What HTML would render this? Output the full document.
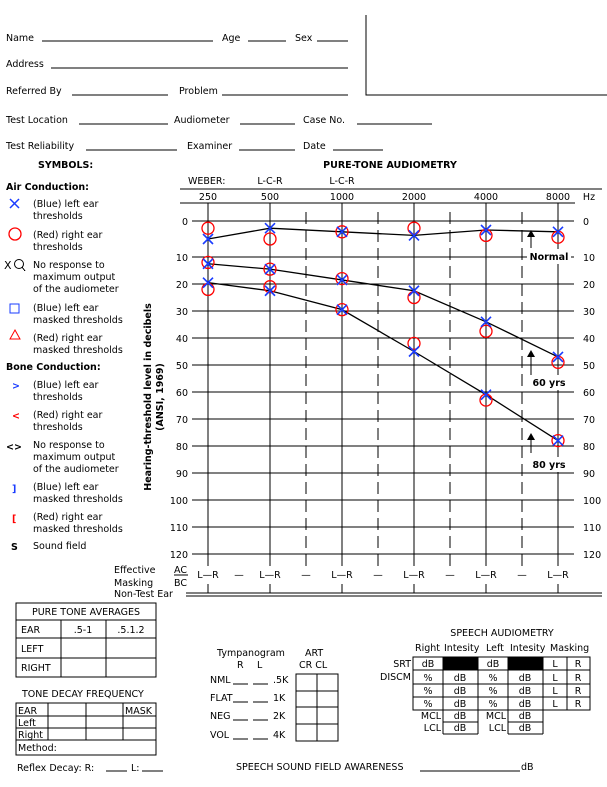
<!DOCTYPE html>
<html><head><meta charset="utf-8"><style>
html,body{margin:0;padding:0;background:#fff}
svg{display:block;font-family:"DejaVu Sans","Liberation Sans",sans-serif;font-size:9.5px}
svg line, svg rect, svg polyline{shape-rendering:crispEdges}
.b{font-weight:bold}
</style></head><body>
<svg id="pg" width="607" height="787" viewBox="0 0 607 787" stroke-linecap="butt">
<g fill="#000">
<text x="6" y="41">Name</text><line x1="42" y1="41" x2="213" y2="41" stroke="#000"/>
<text x="222" y="41">Age</text><line x1="248" y1="41" x2="286" y2="41" stroke="#000"/>
<text x="295" y="41">Sex</text><line x1="317" y1="41" x2="348" y2="41" stroke="#000"/>
<text x="6" y="67">Address</text><line x1="51" y1="68" x2="348" y2="68" stroke="#000"/>
<text x="6" y="94">Referred By</text><line x1="72" y1="95" x2="168" y2="95" stroke="#000"/>
<text x="179" y="94">Problem</text><line x1="222" y1="95" x2="348" y2="95" stroke="#000"/>
<text x="6" y="123">Test Location</text><line x1="79" y1="124" x2="168" y2="124" stroke="#000"/>
<text x="174" y="123">Audiometer</text><line x1="240" y1="124" x2="295" y2="124" stroke="#000"/>
<text x="303" y="123">Case No.</text><line x1="357" y1="124" x2="432" y2="124" stroke="#000"/>
<text x="6" y="149">Test Reliability</text><line x1="86" y1="150" x2="177" y2="150" stroke="#000"/>
<text x="187" y="149">Examiner</text><line x1="239" y1="150" x2="295" y2="150" stroke="#000"/>
<text x="303" y="149">Date</text><line x1="333" y1="150" x2="383" y2="150" stroke="#000"/>
<path d="M366 15 V95 H607" fill="none" stroke="#000"/>
</g>
<g fill="#000">
<text x="38" y="168" class="b">SYMBOLS:</text>
<text x="6" y="190" class="b">Air Conduction:</text>
<path d="M10 199 L19 208 M19 199 L10 208" stroke="#1a3cff" stroke-width="1.5"/>
<text x="33" y="207">(Blue) left ear</text><text x="33" y="219">thresholds</text>
<circle cx="15" cy="234" r="6" fill="none" stroke="red" stroke-width="1.3"/>
<text x="33" y="238">(Red) right ear</text><text x="33" y="250">thresholds</text>
<text x="4" y="269" font-size="11">X</text><circle cx="19" cy="264" r="4.5" fill="none" stroke="#000"/><line x1="22" y1="267" x2="25" y2="271" stroke="#000"/>
<text x="33" y="268">No response to</text><text x="33" y="280">maximum output</text><text x="33" y="292">of the audiometer</text>
<rect x="10" y="304" width="9" height="9" fill="none" stroke="#1a3cff"/>
<text x="33" y="311">(Blue) left ear</text><text x="33" y="323">masked thresholds</text>
<path d="M15 330 L20 339 L10 339 Z" fill="none" stroke="red"/>
<text x="33" y="341">(Red) right ear</text><text x="33" y="353">masked thresholds</text>
<text x="6" y="370" class="b">Bone Conduction:</text>
<text x="12" y="389" fill="#1a3cff" class="b">&gt;</text>
<text x="33" y="388">(Blue) left ear</text><text x="33" y="400">thresholds</text>
<text x="12" y="419" fill="red" class="b">&lt;</text>
<text x="33" y="418">(Red) right ear</text><text x="33" y="430">thresholds</text>
<text x="6" y="450" class="b">&lt;&gt;</text>
<text x="33" y="448">No response to</text><text x="33" y="460">maximum output</text><text x="33" y="472">of the audiometer</text>
<text x="12" y="492" fill="#1a3cff" class="b">]</text>
<text x="33" y="490">(Blue) left ear</text><text x="33" y="502">masked thresholds</text>
<text x="12" y="522" fill="red" class="b">[</text>
<text x="33" y="520">(Red) right ear</text><text x="33" y="532">masked thresholds</text>
<text x="11" y="550" class="b">S</text><text x="33" y="549">Sound field</text>
</g>
<g id="chart"></g>
<g fill="#000" stroke-width="1">
<rect x="16" y="603" width="140" height="74" fill="none" stroke="#000"/>
<line x1="16" y1="620" x2="156" y2="620" stroke="#000"/><line x1="16" y1="638" x2="156" y2="638" stroke="#000"/><line x1="16" y1="658" x2="156" y2="658" stroke="#000"/>
<line x1="61" y1="620" x2="61" y2="677" stroke="#000"/><line x1="106" y1="620" x2="106" y2="677" stroke="#000"/>
<text x="86" y="615" text-anchor="middle">PURE TONE AVERAGES</text>
<text x="21" y="633">EAR</text><text x="83" y="633" text-anchor="middle">.5-1</text><text x="131" y="633" text-anchor="middle">.5.1.2</text>
<text x="21" y="652">LEFT</text><text x="21" y="671">RIGHT</text>
</g>
<g fill="#000">
<text x="22" y="697">TONE DECAY FREQUENCY</text>
<rect x="16" y="703" width="140" height="52" fill="none" stroke="#000"/>
<line x1="16" y1="716" x2="156" y2="716" stroke="#000"/><line x1="16" y1="728" x2="156" y2="728" stroke="#000"/><line x1="16" y1="740" x2="156" y2="740" stroke="#000"/>
<line x1="48" y1="703" x2="48" y2="740" stroke="#000"/><line x1="86" y1="703" x2="86" y2="740" stroke="#000"/><line x1="123" y1="703" x2="123" y2="740" stroke="#000"/>
<text x="18" y="714">EAR</text><text x="125" y="714">MASK</text><text x="18" y="726">Left</text><text x="18" y="738">Right</text><text x="18" y="751">Method:</text>
<text x="17" y="771">Reflex Decay:  R:</text><line x1="106" y1="771" x2="127" y2="771" stroke="#000"/><text x="131" y="771">L:</text><line x1="142" y1="771" x2="163" y2="771" stroke="#000"/>
</g>
<g fill="#000">
<text x="217" y="656">Tympanogram</text><text x="305" y="656">ART</text>
<text x="237" y="668">R</text><text x="257" y="668">L</text><text x="299" y="668">CR  CL</text>
<text x="210" y="683">NML</text><text x="210" y="701">FLAT</text><text x="210" y="719">NEG</text><text x="210" y="738">VOL</text>
<g stroke="#000"><line x1="233" y1="684" x2="248" y2="684"/><line x1="253" y1="684" x2="268" y2="684"/>
<line x1="233" y1="702" x2="248" y2="702"/><line x1="253" y1="702" x2="268" y2="702"/>
<line x1="233" y1="720" x2="248" y2="720"/><line x1="253" y1="720" x2="268" y2="720"/>
<line x1="233" y1="739" x2="248" y2="739"/><line x1="253" y1="739" x2="268" y2="739"/>
<rect x="296" y="674" width="42" height="67" fill="none"/><line x1="317" y1="674" x2="317" y2="741"/>
<line x1="296" y1="691" x2="338" y2="691"/><line x1="296" y1="707" x2="338" y2="707"/><line x1="296" y1="724" x2="338" y2="724"/></g>
<text x="273" y="683">.5K</text><text x="273" y="701">1K</text><text x="273" y="719">2K</text><text x="273" y="738">4K</text>
</g>
<g fill="#000">
<text x="502" y="636" text-anchor="middle">SPEECH AUDIOMETRY</text>
<text x="415" y="651">Right</text><text x="444" y="651">Intesity</text><text x="486" y="651">Left</text><text x="510" y="651">Intesity</text><text x="550" y="651">Masking</text>
<rect x="443" y="657" width="35" height="13" fill="#000"/>
<rect x="508" y="657" width="35" height="13" fill="#000"/>
<g stroke="#000" fill="none">
<rect x="413" y="657" width="177" height="53"/>
<line x1="413" y1="670" x2="590" y2="670"/><line x1="413" y1="684" x2="590" y2="684"/><line x1="413" y1="697" x2="590" y2="697"/>
<line x1="443" y1="657" x2="443" y2="734"/><line x1="478" y1="657" x2="478" y2="734"/><line x1="508" y1="657" x2="508" y2="734"/><line x1="543" y1="657" x2="543" y2="734"/><line x1="567" y1="657" x2="567" y2="710"/>
<line x1="443" y1="722" x2="478" y2="722"/><line x1="508" y1="722" x2="543" y2="722"/><line x1="443" y1="734" x2="478" y2="734"/><line x1="508" y1="734" x2="543" y2="734"/>
</g>
<text x="411" y="667" text-anchor="end">SRT</text><text x="411" y="680" text-anchor="end">DISCM</text>
<text x="428" y="667" text-anchor="middle">dB</text><text x="493" y="667" text-anchor="middle">dB</text>
<text x="428" y="681" text-anchor="middle">%</text><text x="460" y="681" text-anchor="middle">dB</text><text x="493" y="681" text-anchor="middle">%</text><text x="525" y="681" text-anchor="middle">dB</text>
<text x="428" y="694" text-anchor="middle">%</text><text x="460" y="694" text-anchor="middle">dB</text><text x="493" y="694" text-anchor="middle">%</text><text x="525" y="694" text-anchor="middle">dB</text>
<text x="428" y="707" text-anchor="middle">%</text><text x="460" y="707" text-anchor="middle">dB</text><text x="493" y="707" text-anchor="middle">%</text><text x="525" y="707" text-anchor="middle">dB</text>
<text x="555" y="667" text-anchor="middle">L</text><text x="578" y="667" text-anchor="middle">R</text>
<text x="555" y="681" text-anchor="middle">L</text><text x="578" y="681" text-anchor="middle">R</text>
<text x="555" y="694" text-anchor="middle">L</text><text x="578" y="694" text-anchor="middle">R</text>
<text x="555" y="707" text-anchor="middle">L</text><text x="578" y="707" text-anchor="middle">R</text>
<text x="441" y="719" text-anchor="end">MCL</text><text x="460" y="719" text-anchor="middle">dB</text><text x="506" y="719" text-anchor="end">MCL</text><text x="525" y="719" text-anchor="middle">dB</text>
<text x="441" y="731" text-anchor="end">LCL</text><text x="460" y="731" text-anchor="middle">dB</text><text x="506" y="731" text-anchor="end">LCL</text><text x="525" y="731" text-anchor="middle">dB</text>
</g>
<g fill="#000">
<text x="236" y="770">SPEECH SOUND FIELD AWARENESS</text><line x1="420" y1="771" x2="520" y2="771" stroke="#000"/><text x="521" y="770">dB</text>
</g>
</svg>
<script>
const freqs = ["250","500","1000","2000","4000","8000"];
const dbTicks = [0,10,20,30,40,50,60,70,80,90,100,110,120];
const normalLeft = [5,2,3,4,2.5,3];
const normalRight = [2,5,3,2,4,4.5];
const age60Left = [12.5,14.5,18.5,22.5,34,47];
const age60Right = [12,14.5,18,25,37.5,49];
const age80Left = [19.5,22.5,29.5,45,61,78];
const age80Right = [22,21,29.5,42,63,78];
const NS = "http://www.w3.org/2000/svg";
const g = document.getElementById('chart');
function xs(i){ return i===0 ? 208 : 270 + (i-1)*72; }
function ys(v){ return v<=10 ? 221 + v*3.6 : 257 + (v-10)*2.7; }
function el(tag, attrs, parent){ const e=document.createElementNS(NS,tag); for(const k in attrs) e.setAttribute(k,attrs[k]); (parent||g).appendChild(e); return e; }
function txt(x,y,s,anchor,cls){ const t=el('text',{x:x,y:y,'text-anchor':anchor||'start'}); if(cls) t.setAttribute('class',cls); t.textContent=s; return t; }
let t=txt(390,168,'PURE-TONE AUDIOMETRY','middle','b');


txt(188,184,'WEBER:');
txt(270,184,'L-C-R','middle');
txt(342,184,'L-C-R','middle');
el('line',{x1:180,y1:189,x2:602,y2:189,stroke:'#000'});
el('line',{x1:180,y1:203,x2:575,y2:203,stroke:'#000'});
txt(589,200,'Hz','middle');
freqs.forEach((f,i)=>{
  const l=txt(xs(i),200,f,'middle');
  
  
  const v=el('line',{x1:xs(i),y1:203,x2:xs(i),y2:566,stroke:'#000'});
  
  
  el('line',{x1:xs(i),y1:584,x2:xs(i),y2:593,stroke:'#000'});
  txt(xs(i),578,'L—R','middle');
  if(i<freqs.length-1){
    const mx=(xs(i)+xs(i+1))/2;
    if(i>0){
      const d=el('line',{x1:mx,y1:212,x2:mx,y2:570,stroke:'#000','stroke-dasharray':'12,6'});
      
      
    }
    txt(mx,578,'—','middle');
  }
});
dbTicks.forEach(v=>{
  const y=ys(v);
  const h=el('line',{x1:192,y1:y,x2:574,y2:y,stroke:'#000'});
  
  
  const a=txt(188,y+4,String(v),'end');
  
  
  const b=txt(583,y+4,String(v),'start');
  
  
});
const yt=el('text',{transform:'translate(151,397) rotate(-90)','text-anchor':'middle',class:'b'});
yt.textContent='Hearing-threshold level in decibels';


const yt2=el('text',{transform:'translate(163,397) rotate(-90)','text-anchor':'middle',class:'b'});
yt2.textContent='(ANSI, 1969)';


txt(114,573,'Effective');txt(114,586,'Masking');txt(114,597,'Non-Test Ear');
txt(174,573,'AC');txt(174,586,'BC');
el('line',{x1:174,y1:575,x2:188,y2:575,stroke:'#000'});
el('line',{x1:186,y1:593,x2:602,y2:593,stroke:'#000'});
el('line',{x1:186,y1:596,x2:602,y2:596,stroke:'#000'});
function series(lv,rv,name){
  const pts=lv.map((v,i)=>xs(i)+','+ys(v)).join(' ');
  const pl=el('polyline',{points:pts,fill:'none',stroke:'#000','stroke-width':1.3,style:'shape-rendering:auto'});
  
  
  rv.forEach((v,i)=>{
    const c=el('circle',{cx:xs(i),cy:ys(v),r:6,fill:'none',stroke:'red','stroke-width':1.3});
    
    
  });
  lv.forEach((v,i)=>{
    const x=xs(i),y=ys(v);
    const p=el('path',{d:`M${x-5} ${y-5} L${x+5} ${y+5} M${x+5} ${y-5} L${x-5} ${y+5}`,stroke:'#1a3cff','stroke-width':1.6});
    
    
  });
}
series(normalLeft,normalRight,'normal');
series(age60Left,age60Right,'age-60');
series(age80Left,age80Right,'age-80');
function note(label,ty,a1,a2,name){
  el('rect',{x:527,y:ty-11,width:44,height:15,fill:'#fff'});
  const n=txt(549,ty,label,'middle','b');
  
  
  el('line',{x1:531,y1:a1,x2:531,y2:a2+5,stroke:'#000','stroke-width':1.3});
  el('path',{d:`M527 ${a2+7} L531 ${a2} L535 ${a2+7} Z`,fill:'#000'});
}
note('Normal',260,248,230,'normal-label');
note('60 yrs',386,375,350,'60-yrs-label');
note('80 yrs',468,453,433,'80-yrs-label');
</script>
</body></html>
